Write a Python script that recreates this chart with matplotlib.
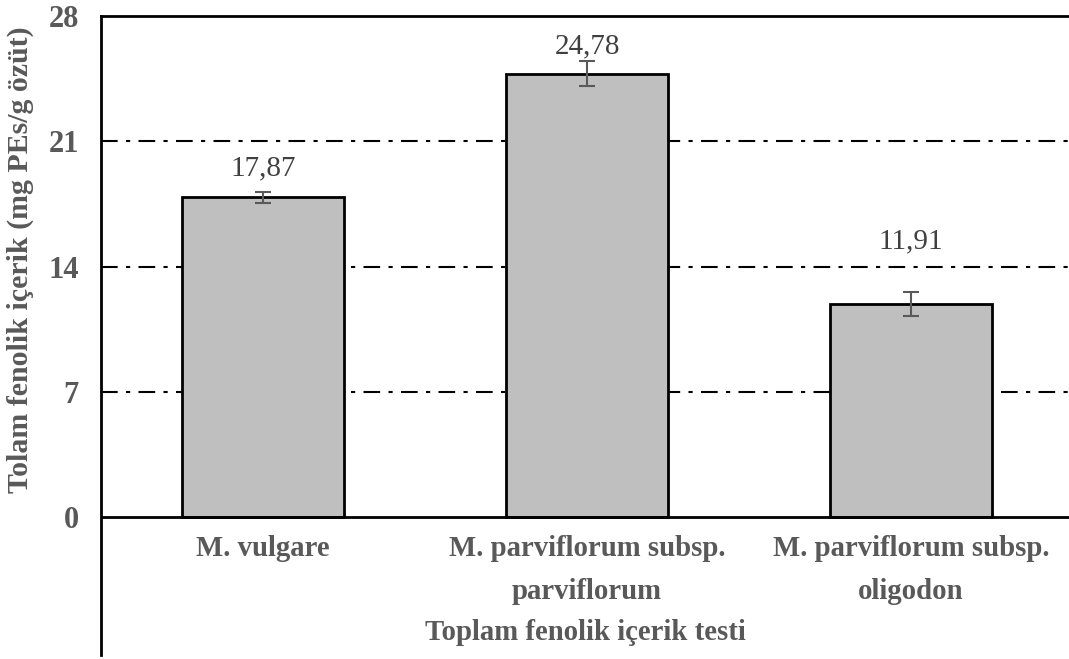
import matplotlib
matplotlib.use("Agg")
import matplotlib.pyplot as plt
from matplotlib.transforms import blended_transform_factory

# Data
categories = ["M. vulgare", "M. parviflorum subsp.\nparviflorum", "M. parviflorum subsp.\noligodon"]
values = [17.87, 24.78, 11.91]
errors = [0.30, 0.70, 0.65]
value_labels = ["17,87", "24,78", "11,91"]
label_heights = [19.5, 26.3, 15.4]
yticks = [0, 7, 14, 21, 28]

plt.rcParams['font.family'] = ['Liberation Serif', 'DejaVu Serif']

fig = plt.figure(figsize=(10.69, 6.59), dpi=100)
W, H = 1069, 659
y0_px, y28_px, ybot_px = 517, 16, 655
ppu = (y0_px - y28_px) / 28.0
ymin = -(ybot_px - y0_px) / ppu
ax = fig.add_axes([101 / W, (H - ybot_px) / H, (W - 101) / W, (ybot_px - y28_px) / H])

x = list(range(len(categories)))
ax.bar(x, values, width=0.5, color="#bfbfbf", edgecolor="black", linewidth=2, zorder=3)
ax.errorbar(x, values, yerr=errors, fmt="none", ecolor="#595959", elinewidth=1.5,
            capsize=6, capthick=1.5, zorder=4)

for xi, lab, h in zip(x, value_labels, label_heights):
    ax.text(xi, h, lab, ha="center", va="center", fontsize=21, color="#404040", zorder=5)

ax.set_xlim(-0.5, 2.5 - 4 / 324)
ax.set_ylim(ymin, 28)

# Gridlines
for t in yticks[1:-1]:
    ax.axhline(t, color="black", lw=1.5, dashes=(8, 4, 2, 4), zorder=1)
ax.axhline(0, color="black", lw=2, zorder=5)
ax.axhline(28, color="black", lw=2, zorder=5, clip_on=False)

for s in ["top", "right", "bottom"]:
    ax.spines[s].set_visible(False)
ax.spines["left"].set_linewidth(2)

ax.set_xticks([])
ax.set_yticks(yticks)
ax.set_yticklabels([str(t) for t in yticks], fontsize=22, fontweight="bold", color="#595959")
ax.tick_params(axis="y", length=0, pad=16)

for xi, cat in zip(x, categories):
    ax.text(xi, -1.0, cat, ha="center", va="top", fontsize=20.7, fontweight="bold",
            color="#595959", linespacing=1.75)

trans = blended_transform_factory(ax.transAxes, ax.transData)
ax.text(0.5, -6.45, "Toplam fenolik içerik testi", ha="center", va="center",
        fontsize=20.7, fontweight="bold", color="#595959", transform=trans)

fig.text(20 / W, 1 - 260 / H, "Tolam fenolik içerik (mg PEs/g özüt)", rotation=90,
         ha="center", va="center", fontsize=21.5, fontweight="bold", color="#595959")

fig.savefig("out.png", dpi=100)
